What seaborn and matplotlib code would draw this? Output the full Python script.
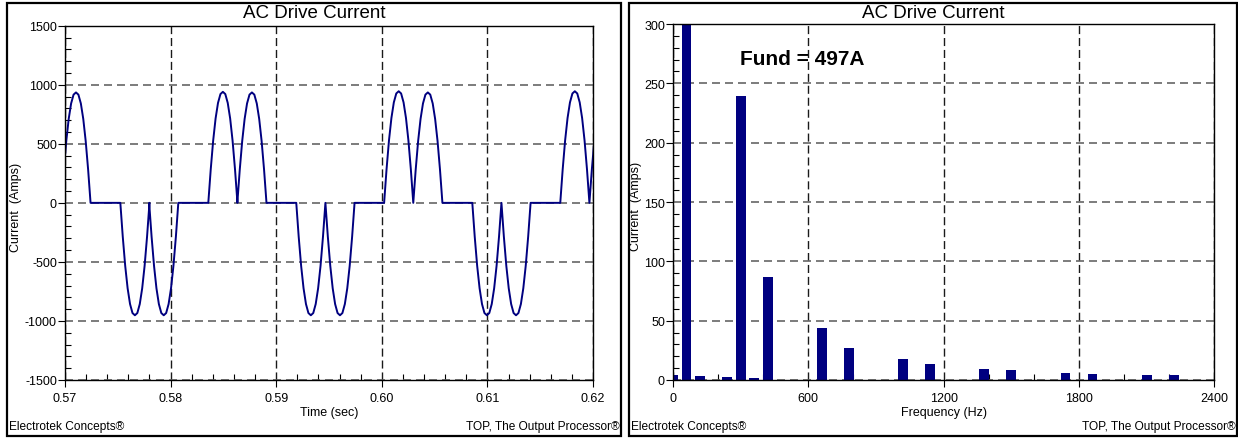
import matplotlib
matplotlib.use('Agg')
import matplotlib.pyplot as plt
import seaborn as sns
from matplotlib.patches import Rectangle
from matplotlib.ticker import MultipleLocator

# --- left panel: current waveform, built from hump shapes ---
hump_frac = [0, 0.083, 0.167, 0.25, 0.333, 0.417, 0.5, 0.583, 0.667, 0.75, 0.833, 0.917, 1.0]
hump_shape = [0, 0.30, 0.56, 0.76, 0.90, 0.98, 1.0, 0.98, 0.90, 0.76, 0.56, 0.30, 0]
hump_width = 0.00276
hump_start = [0.56966, 0.57524, 0.57797, 0.58357, 0.58632, 0.59190, 0.59466,
              0.60022, 0.60298, 0.60857, 0.61133, 0.61690, 0.61966]
hump_peak = [935, -952, -952, 940, 935, -952, -952, 945, 935, -952, -952, 945, 935]

# --- right panel: harmonic spectrum ---
freq = [0, 60, 120, 240, 300, 360, 420, 660, 780, 1020, 1140, 1380, 1500, 1740, 1860, 2100, 2220]
amps = [4.2, 497, 3.4, 2.2, 239, 1.4, 87, 44, 27, 18, 13.5, 9.6, 8.5, 5.9, 5.4, 4.0, 4.0]

time = []
current = []
for s, pk in zip(hump_start, hump_peak):
    for f, v in zip(hump_frac, hump_shape):
        time.append(s + f * hump_width)
        current.append(pk * v)

sns.set_style('white')
plt.rcParams['font.family'] = ['Liberation Sans', 'DejaVu Sans']
plt.rcParams['axes.unicode_minus'] = False
plt.rcParams['text.color'] = 'black'
plt.rcParams['axes.labelcolor'] = 'black'

W, H = 1238, 439
fig = plt.figure(figsize=(W / 100, H / 100), dpi=100)

ax1 = fig.add_axes([65 / W, 1 - 381 / H, 528 / W, 354.3 / H])
ax2 = fig.add_axes([673 / W, 1 - 381 / H, 541.3 / W, 356 / H])

navy = '#000080'

sns.lineplot(x=time, y=current, sort=False, estimator=None, color=navy,
             linewidth=1.4, ax=ax1)
sns.barplot(x=freq, y=amps, native_scale=True, orient='x', width=0.73,
            color=navy, saturation=1, linewidth=0, errorbar=None, ax=ax2)

ax1.set_xlim(0.57, 0.62)
ax1.set_ylim(-1500, 1500)
ax1.xaxis.set_major_locator(MultipleLocator(0.01))
ax1.xaxis.set_minor_locator(MultipleLocator(0.002))
ax1.yaxis.set_major_locator(MultipleLocator(500))
ax1.yaxis.set_minor_locator(MultipleLocator(100))
ax1.set_xticks([0.57, 0.58, 0.59, 0.60, 0.61, 0.62])
ax1.set_xticklabels(['0.57', '0.58', '0.59', '0.60', '0.61', '0.62'])

ax2.set_xlim(0, 2400)
ax2.set_ylim(0, 300)
ax2.xaxis.set_major_locator(MultipleLocator(600))
ax2.xaxis.set_minor_locator(MultipleLocator(200))
ax2.yaxis.set_major_locator(MultipleLocator(50))
ax2.yaxis.set_minor_locator(MultipleLocator(10))

for ax in (ax1, ax2):
    ax.set_axisbelow(True)
    for sp in ax.spines.values():
        sp.set_visible(True)
        sp.set_color('black')
        sp.set_linewidth(1.0)
    ax.tick_params(which='major', direction='out', length=4.8, width=0.8,
                   colors='black', labelsize=9)
    ax.tick_params(which='minor', direction='in', length=4.0, width=0.8,
                   colors='black')
    ax.tick_params(axis='y', which='major', pad=1, left=True)
    ax.tick_params(axis='y', which='minor', left=True)
    ax.tick_params(axis='x', which='major', pad=4, bottom=True)
    ax.tick_params(axis='x', which='minor', bottom=True)
    ax.xaxis.grid(True, which='major', color='#1a1a1a', linewidth=1.0,
                  linestyle=(0, (5.8, 2.8)))
    ax.yaxis.grid(True, which='major', color='#666666', linewidth=1.2,
                  linestyle=(0, (4.8, 3.0)))

ax1.set_xlabel('Time (sec)', fontsize=9)
ax1.set_ylabel('Current  (Amps)', fontsize=9)
ax2.set_xlabel('Frequency (Hz)', fontsize=9)
ax2.set_ylabel('Current  (Amps)', fontsize=9)
ax1.xaxis.set_label_coords(0.5, -0.0895)
ax2.xaxis.set_label_coords(0.5, -0.0895)
ax1.yaxis.set_label_coords(-0.0928, 0.49)
ax2.yaxis.set_label_coords(-0.0684, 0.49)
for ax in (ax1, ax2):
    ax.xaxis.label.set_va('center')
    ax.yaxis.label.set_va('center')

ax1.set_title('AC Drive Current', x=0.4716, y=1.038, va='center', pad=0, fontsize=13.5)
ax2.set_title('AC Drive Current', x=0.4813, y=1.0326, va='center', pad=0, fontsize=13.5)

ax2.text(297, 271, 'Fund = 497A', fontsize=15, fontweight='bold',
         ha='left', va='center')

# outer boxes and footers
for x0, x1 in ((6.7, 621), (629, 1237)):
    fig.patches.append(Rectangle((x0 / W, 1 - 436.5 / H), (x1 - x0) / W, 433 / H,
                                 transform=fig.transFigure, fill=False,
                                 edgecolor='black', linewidth=1.6))
    fig.text((x0 + 2) / W, 1 - 426.7 / H, 'Electrotek Concepts®', fontsize=8.6,
             ha='left', va='center')
    fig.text((x1 - 1) / W, 1 - 426.7 / H, 'TOP, The Output Processor®', fontsize=8.6,
             ha='right', va='center')

fig.savefig('out.png', dpi=100)
